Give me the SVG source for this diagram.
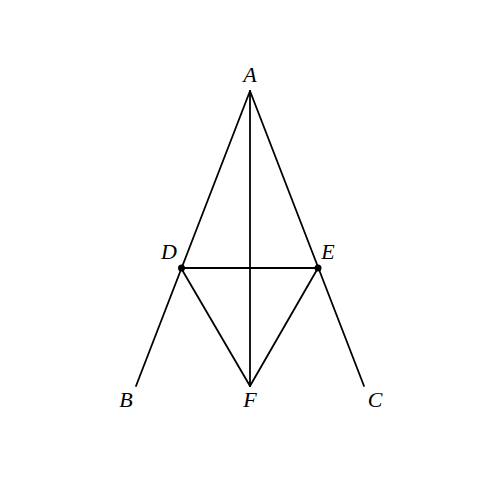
<svg xmlns="http://www.w3.org/2000/svg" width="500" height="500" viewBox="0 0 500 500">
<style>
.l{stroke:#000;stroke-width:1.8;fill:none;stroke-linecap:round}
.t{font-family:"Liberation Serif",serif;font-style:italic;font-size:22px;text-anchor:middle;fill:#000}
</style>
<rect width="500" height="500" fill="#fff"/>
<g id="connectors">
<line class="l" x1="250" y1="91" x2="136" y2="386"/>
<line class="l" x1="250" y1="91" x2="364" y2="386"/>
<line class="l" x1="250" y1="91" x2="250" y2="386"/>
<line class="l" x1="181" y1="268" x2="318" y2="268"/>
<line class="l" x1="181" y1="268" x2="250" y2="386"/>
<line class="l" x1="318" y1="268" x2="250" y2="386"/>
</g>
<g id="A"><text class="t" x="250" y="82">A</text></g>
<g id="D"><circle cx="181.5" cy="268" r="3.5"/><text class="t" x="169" y="259">D</text></g>
<g id="E"><circle cx="318" cy="268" r="3.5"/><text class="t" x="328" y="259">E</text></g>
<g id="B"><text class="t" x="126" y="407">B</text></g>
<g id="F"><text class="t" x="250" y="407">F</text></g>
<g id="C"><text class="t" x="375" y="407">C</text></g>
</svg>
